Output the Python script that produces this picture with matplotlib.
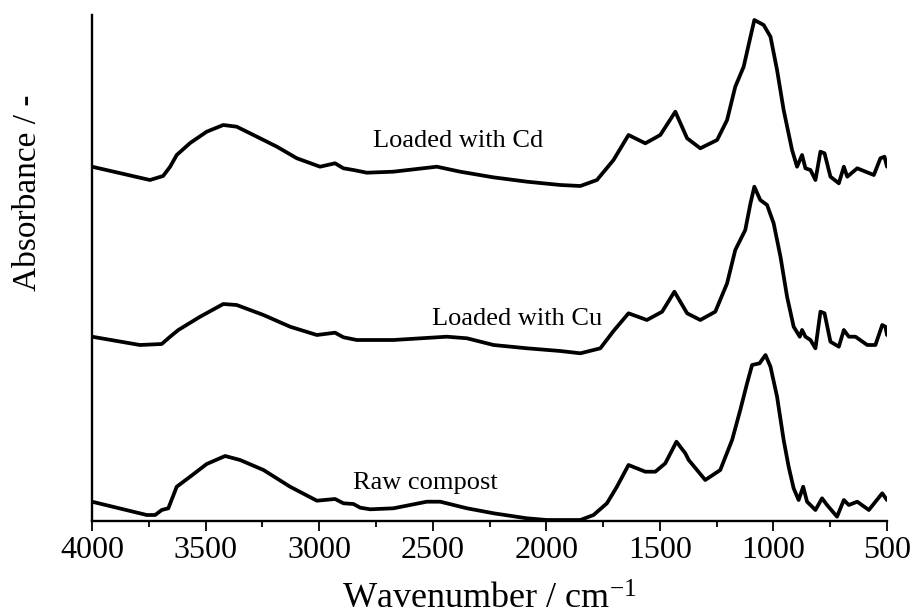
import matplotlib
matplotlib.use("Agg")
import matplotlib.pyplot as plt
from matplotlib.ticker import MultipleLocator

plt.rcParams['font.family'] = ['Liberation Serif', 'DejaVu Serif']
plt.rcParams['mathtext.fontset'] = 'custom'
plt.rcParams['mathtext.rm'] = 'Liberation Serif'
plt.rcParams['mathtext.it'] = 'Liberation Serif:italic'

# ---- data (wavenumber in cm-1, absorbance in arbitrary units) ----
cd_wn = [4000, 3745, 3687, 3656, 3627, 3568, 3495, 3422, 3363, 3274, 3186, 3098,
         2996, 2930, 2893, 2849, 2790, 2674, 2482, 2379, 2234, 2085, 1938, 1850,
         1777, 1704, 1638, 1564, 1498, 1432, 1380, 1322, 1248, 1204, 1168, 1131,
         1101, 1084, 1043, 1013, 984, 955, 918, 896, 874, 859, 837, 815, 793, 775,
         749, 712, 690, 675, 631, 558, 529, 511, 500]
cd_abs = [0.243, 0.11, 0.15, 0.243, 0.36, 0.48, 0.593, 0.66, 0.643, 0.543, 0.443, 0.327,
          0.243, 0.277, 0.227, 0.21, 0.183, 0.193, 0.243, 0.193, 0.137, 0.093, 0.06, 0.05,
          0.11, 0.31, 0.56, 0.477, 0.56, 0.793, 0.527, 0.427, 0.51, 0.71, 1.043, 1.243,
          1.543, 1.71, 1.66, 1.543, 1.21, 0.81, 0.41, 0.243, 0.36, 0.227, 0.21, 0.11, 0.393, 0.377,
          0.143, 0.077, 0.243, 0.143, 0.227, 0.16, 0.327, 0.343, 0.243]

cu_wn = [4000, 3789, 3693, 3656, 3620, 3524, 3422, 3363, 3245, 3128, 3010, 2930,
         2893, 2834, 2673, 2438, 2349, 2232, 2085, 1938, 1850, 1762, 1704, 1638,
         1557, 1490, 1436, 1380, 1322, 1256, 1204, 1168, 1124, 1101, 1084, 1058,
         1028, 999, 969, 940, 911, 884, 874, 859, 837, 815, 793, 775, 749, 712,
         690, 668, 639, 587, 551, 521, 507, 500]
cu_abs = [0.243, 0.16, 0.17, 0.243, 0.31, 0.443, 0.57, 0.56, 0.46, 0.343, 0.26, 0.283,
          0.237, 0.21, 0.21, 0.243, 0.227, 0.16, 0.127, 0.10, 0.077, 0.127, 0.30, 0.477,
          0.41, 0.493, 0.693, 0.477, 0.41, 0.493, 0.777, 1.11, 1.31, 1.577, 1.743, 1.61,
          1.56, 1.377, 1.043, 0.643, 0.343, 0.243, 0.31, 0.243, 0.21, 0.127, 0.493, 0.477, 0.193, 0.143,
          0.31, 0.243, 0.243, 0.16, 0.16, 0.36, 0.343, 0.26]

raw_wn = [4000, 3862, 3759, 3722, 3693, 3664, 3627, 3568, 3495, 3414, 3348, 3245,
          3128, 3010, 2930, 2893, 2849, 2819, 2775, 2673, 2526, 2467, 2349, 2232,
          2085, 1997, 1909, 1850, 1792, 1733, 1689, 1638, 1564, 1520, 1476, 1427,
          1388, 1373, 1300, 1234, 1182, 1146, 1116, 1094, 1061, 1035, 1013, 984,
          955, 933, 911, 889, 869, 852, 815, 786, 764, 720, 690, 668, 631, 580,
          521, 500]
raw_abs = [0.193, 0.117, 0.06, 0.06, 0.11, 0.127, 0.343, 0.443, 0.57, 0.65, 0.61, 0.51,
           0.343, 0.203, 0.22, 0.177, 0.17, 0.133, 0.117, 0.127, 0.193, 0.193, 0.127, 0.077,
           0.027, 0.01, 0.01, 0.01, 0.06, 0.177, 0.343, 0.56, 0.493, 0.493, 0.577, 0.793,
           0.677, 0.61, 0.41, 0.51, 0.81, 1.11, 1.377, 1.56, 1.577, 1.66, 1.543, 1.243,
           0.81, 0.543, 0.327, 0.21, 0.343, 0.193, 0.11, 0.227, 0.16, 0.043, 0.21, 0.16, 0.193, 0.11,
           0.277, 0.21]

series_names = ["Raw compost", "Loaded with Cu", "Loaded with Cd"]
offsets = [0.0, 1.6, 3.3]
label_pos = [(2533, 0.38), (2129, 2.02), (2388, 3.80)]
xticks = [4000, 3500, 3000, 2500, 2000, 1500, 1000, 500]

fig = plt.figure(figsize=(9.16, 6.15), dpi=100)
ax = fig.add_axes([92/916, 94/615, (887-92)/916, (521-15)/615])

lw = 2.7
for wn, ab, off in zip([raw_wn, cu_wn, cd_wn], [raw_abs, cu_abs, cd_abs], offsets):
    ax.plot(wn, [a + off for a in ab], color='black', lw=lw,
            solid_joinstyle='round', solid_capstyle='round')

ax.set_xlim(4000, 500)
ax.set_ylim(0, 5.06)

# labels on curves
for name, (lx, ly) in zip(series_names, label_pos):
    ax.text(lx, ly, name, ha='center', va='center', fontsize=19)

for s in ['top', 'right']:
    ax.spines[s].set_visible(False)
for s in ['left', 'bottom']:
    ax.spines[s].set_linewidth(1.7)

ax.set_yticks([])
ax.set_xticks(xticks)
ax.set_xticklabels([str(t) for t in xticks])
ax.xaxis.set_minor_locator(MultipleLocator(250))
ax.tick_params(axis='x', which='major', direction='out', length=7, width=1.3,
               labelsize=23, pad=4)
ax.tick_params(axis='x', which='minor', direction='out', length=4, width=1.3)

ax.set_xlabel("Wavenumber / cm$^{\\mathrm{-1}}$", fontsize=26, labelpad=13)
fig.text(28/916, 1 - 193/615, "Absorbance / -", rotation=90, ha='center',
         va='center', fontsize=24)

fig.savefig("out.png", dpi=100)
